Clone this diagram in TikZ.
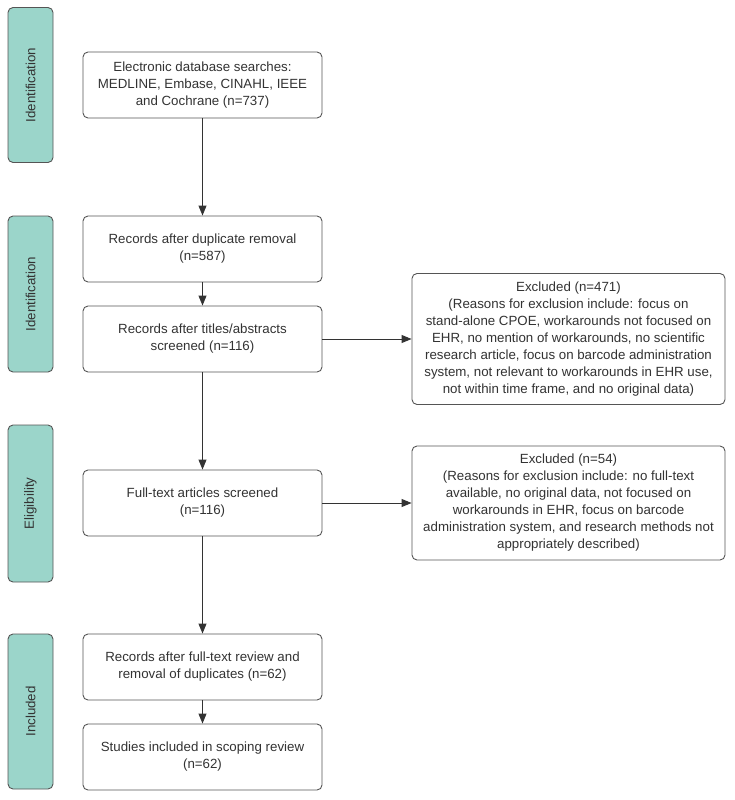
\documentclass[tikz,border=0pt]{standalone}
\usepackage{fontspec}
\setmainfont{Liberation Sans}
\usetikzlibrary{arrows.meta}
\definecolor{barfill}{HTML}{9BD5CA}
\definecolor{edge}{HTML}{555555}
\definecolor{txt}{HTML}{333333}
\tikzset{
  box/.style={draw=edge, line width=0.9pt, rounded corners=5pt, fill=white, align=center,
    text=txt, font=\fontsize{13.3}{17}\selectfont, inner sep=0pt},
  mainbox/.style={box, minimum width=239pt, minimum height=66pt},
  sidebox/.style={box, minimum width=313pt},
  bar/.style={draw=edge, line width=0.9pt, rounded corners=5pt, fill=barfill, text=txt,
    font=\fontsize{13.3}{17}\selectfont, minimum width=45pt, inner sep=0pt},
  arr/.style={draw=txt, line width=0.9pt, -{Triangle[length=10pt,width=8pt]}},
}
\begin{document}
\begin{tikzpicture}[x=1pt,y=-1pt]
\useasboundingbox (0,0) rectangle (735,800);
% side bars
\node[bar, minimum height=155pt] (b1) at (30.5,85) {\rotatebox{90}{Identification}};
\node[bar, minimum height=156pt] (b2) at (30.5,294) {\rotatebox{90}{Identification}};
\node[bar, minimum height=157pt] (b3) at (30.5,503.5) {\rotatebox{90}{Eligibility}};
\node[bar, minimum height=155pt] (b4) at (30.5,711.5) {\rotatebox{90}{Included}};
% main boxes
\node[mainbox] (n1) at (202.5,85) {Electronic database searches:\\MEDLINE, Embase, CINAHL, IEEE\\and Cochrane (n=737)};
\node[mainbox] (n2) at (202.5,249) {Records after duplicate removal\\(n=587)};
\node[mainbox] (n3) at (202.5,339) {Records after titles/abstracts\\screened (n=116)};
\node[mainbox] (n4) at (202.5,503) {Full-text articles screened\\(n=116)};
\node[mainbox] (n5) at (202.5,667) {Records after full-text review and\\removal of duplicates (n=62)};
\node[mainbox] (n6) at (202.5,757) {Studies included in scoping review\\(n=62)};
% exclusion boxes
\node[sidebox, minimum height=131pt] (e1) at (568.5,339) {Excluded (n=471)\\(Reasons for exclusion include: focus on\\stand-alone CPOE, workarounds not focused on\\EHR, no mention of workarounds, no scientific\\research article, focus on barcode administration\\system, not relevant to workarounds in EHR use,\\not within time frame, and no original data)};
\node[sidebox, minimum height=114pt] (e2) at (568.5,503) {Excluded (n=54)\\(Reasons for exclusion include: no full-text\\available, no original data, not focused on\\workarounds in EHR, focus on barcode\\administration system, and research methods not\\appropriately described)};
% connectors
\draw[arr] (n1) -- (n2);
\draw[arr] (n2) -- (n3);
\draw[arr] (n3) -- (n4);
\draw[arr] (n4) -- (n5);
\draw[arr] (n5) -- (n6);
\draw[arr] (n3) -- (e1);
\draw[arr] (n4) -- (e2);
\end{tikzpicture}
\end{document}
